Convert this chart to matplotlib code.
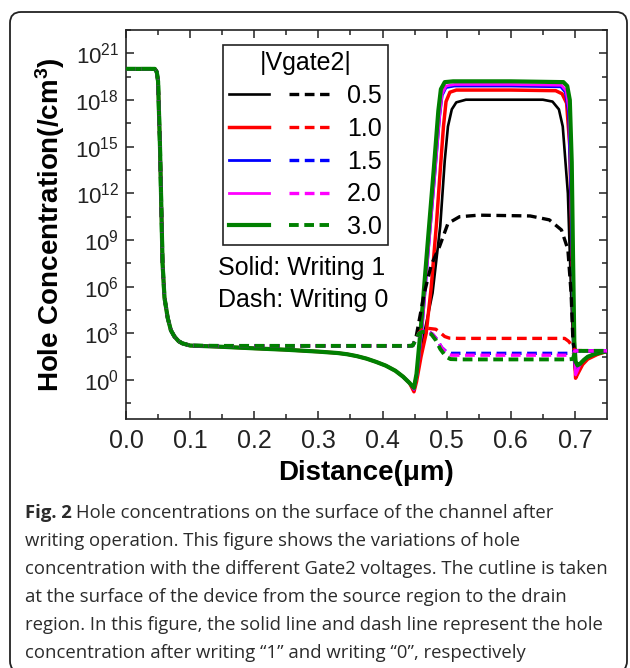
import numpy as np
import matplotlib
matplotlib.use("Agg")
import matplotlib.pyplot as plt
from matplotlib.patches import FancyBboxPatch
from matplotlib.transforms import IdentityTransform
from matplotlib.ticker import FixedLocator, NullFormatter, LogFormatterSciNotation, FormatStrFormatter
from matplotlib.legend_handler import HandlerTuple

plt.rcParams['font.family'] = ['Liberation Sans', 'DejaVu Sans']
plt.rcParams['mathtext.fontset'] = 'custom'
plt.rcParams['mathtext.rm'] = 'Liberation Sans'
plt.rcParams['mathtext.bf'] = 'Liberation Sans:bold'
plt.rcParams['lines.scale_dashes'] = False

# |Vgate2| values
VGATE = ["0.5", "1.0", "1.5", "2.0", "3.0"]
COLORS = ["#000000", "#ff0000", "#0000ff", "#ff00ff", "#008000"]

# source region, shared by every curve (distance in um, log10 of hole conc.)
SRC_X = [0.0, 0.045, 0.048, 0.050, 0.053, 0.057, 0.060, 0.065, 0.070, 0.0755, 0.082, 0.088, 0.10]
SRC_LOG = [20.0, 20.0, 19.8, 19.2, 15.0, 7.5, 5.3, 4.0, 3.2, 2.8, 2.5, 2.36, 2.22]

# channel after writing 1 (solid)
CH1_X = [0.15, 0.20, 0.25, 0.30, 0.33, 0.345, 0.36, 0.375, 0.39, 0.405, 0.42, 0.432, 0.442]
CH1_LOG = [2.14, 2.04, 1.95, 1.83, 1.74, 1.66, 1.54, 1.38, 1.17, 0.93, 0.6, 0.22, -0.18]

# channel after writing 0 (dash)
CH0_X = [0.15, 0.25, 0.35, 0.44, 0.447]
CH0_LOG = [2.2, 2.2, 2.2, 2.2, 2.22]

# body region, writing 1
W1_X = {
    "0.5": [0.448, 0.455, 0.465, 0.478, 0.49, 0.497, 0.502, 0.508, 0.515, 0.53, 0.65, 0.665, 0.675,
            0.681, 0.689, 0.694, 0.698, 0.701, 0.705, 0.712, 0.72, 0.735, 0.75],
    "1.0": [0.449, 0.453, 0.46, 0.468, 0.476, 0.484, 0.49, 0.495, 0.499, 0.505, 0.515, 0.60, 0.67,
            0.68, 0.687, 0.692, 0.695, 0.698, 0.701, 0.705, 0.712, 0.72, 0.735, 0.75],
    "1.5": [0.449, 0.454, 0.462, 0.472, 0.482, 0.489, 0.493, 0.499, 0.512, 0.60, 0.678, 0.685, 0.69,
            0.693, 0.696, 0.698, 0.701, 0.704, 0.708, 0.714, 0.72, 0.73, 0.74, 0.75],
    "2.0": [0.449, 0.454, 0.462, 0.472, 0.482, 0.489, 0.493, 0.499, 0.512, 0.60, 0.679, 0.686, 0.691,
            0.694, 0.697, 0.699, 0.701, 0.704, 0.708, 0.714, 0.72, 0.73, 0.74, 0.75],
    "3.0": [0.449, 0.453, 0.46, 0.47, 0.48, 0.487, 0.491, 0.497, 0.51, 0.60, 0.682, 0.688, 0.692,
            0.695, 0.697, 0.699, 0.701, 0.704, 0.708, 0.714, 0.72, 0.73, 0.74, 0.75],
}
W1_LOG = {
    "0.5": [-0.6, 0.8, 3.0, 5.6, 9.9, 14.1, 16.3, 17.4, 17.85, 18.02, 18.02, 17.9, 17.4,
            16.3, 12.0, 5.6, 1.5, 0.4, 0.7, 1.1, 1.4, 1.67, 1.85],
    "1.0": [-0.75, -0.1, 1.5, 3.0, 6.0, 10.0, 13.5, 16.3, 17.9, 18.5, 18.64, 18.64, 18.6,
            18.4, 17.8, 15.0, 9.0, 3.0, 0.12, 0.45, 1.0, 1.35, 1.65, 1.85],
    "1.5": [-0.6, 0.4, 3.5, 8.6, 13.4, 16.9, 18.3, 18.8, 18.9, 18.9, 18.85, 18.5, 17.2,
            13.0, 7.0, 2.0, 0.55, 0.7, 1.0, 1.3, 1.5, 1.66, 1.77, 1.85],
    "2.0": [-0.6, 0.4, 3.5, 8.6, 13.5, 17.0, 18.4, 18.9, 19.0, 19.0, 18.95, 18.6, 17.3,
            13.0, 7.0, 2.0, 0.33, 0.6, 1.0, 1.3, 1.5, 1.66, 1.77, 1.85],
    "3.0": [-0.5, 0.4, 3.5, 8.6, 13.6, 17.3, 18.7, 19.15, 19.2, 19.2, 19.15, 18.9, 18.0,
            14.0, 8.0, 2.5, 1.2, 0.95, 1.05, 1.3, 1.5, 1.66, 1.77, 1.85],
}

# body region, writing 0
W0_X = {
    "0.5": [0.452, 0.465, 0.476, 0.489, 0.502, 0.52, 0.55, 0.63, 0.66, 0.679, 0.689, 0.694, 0.697, 0.70, 0.75],
    "1.0": [0.452, 0.457, 0.463, 0.47, 0.483, 0.49, 0.497, 0.504, 0.52, 0.684, 0.69, 0.697, 0.70, 0.75],
    "1.5": [0.452, 0.457, 0.463, 0.472, 0.478, 0.485, 0.492, 0.5, 0.507, 0.52, 0.69, 0.697, 0.70, 0.75],
    "2.0": [0.452, 0.457, 0.463, 0.472, 0.478, 0.485, 0.492, 0.5, 0.507, 0.52, 0.69, 0.697, 0.70, 0.75],
    "3.0": [0.452, 0.457, 0.462, 0.47, 0.476, 0.483, 0.49, 0.499, 0.506, 0.52, 0.69, 0.697, 0.70, 0.75],
}
W0_LOG = {
    "0.5": [2.7, 5.57, 7.4, 8.6, 10.07, 10.5, 10.6, 10.55, 10.3, 9.65, 8.4, 5.6, 2.4, 1.88, 1.88],
    "1.0": [2.6, 3.05, 3.3, 3.33, 3.27, 3.05, 2.8, 2.7, 2.68, 2.68, 2.5, 2.14, 1.9, 1.88],
    "1.5": [2.6, 3.0, 3.15, 3.1, 2.95, 2.6, 2.1, 1.8, 1.72, 1.72, 1.72, 1.74, 1.88, 1.88],
    "2.0": [2.6, 3.0, 3.15, 3.1, 2.95, 2.6, 2.1, 1.75, 1.6, 1.6, 1.6, 1.63, 1.88, 1.88],
    "3.0": [2.6, 3.0, 3.1, 3.07, 2.95, 2.57, 2.0, 1.5, 1.35, 1.33, 1.33, 1.36, 1.88, 1.88],
}

SOLID_LW = {"0.5": 1.9, "1.0": 2.5, "1.5": 2.0, "2.0": 2.0, "3.0": 3.0}
DASH_LW = {"0.5": 2.4, "1.0": 2.4, "1.5": 2.4, "2.0": 2.4, "3.0": 2.8}
DASHES = (7.0, 4.0)

W, H = 630, 668
fig = plt.figure(figsize=(W / 100, H / 100), dpi=100)
ax = fig.add_axes([126 / W, 1 - 419 / H, (607 - 126) / W, (419 - 30) / H])


def full_curve(x_mid, log_mid, x_body, log_body):
    x = np.array(SRC_X + x_mid + x_body)
    y = 10.0 ** np.array(SRC_LOG + log_mid + log_body)
    return x, y


solid = {}
for v, c in zip(VGATE, COLORS):
    x, y = full_curve(CH1_X, CH1_LOG, W1_X[v], W1_LOG[v])
    solid[v], = ax.plot(x, y, color=c, lw=SOLID_LW[v], solid_joinstyle='round', zorder=2)

dashed = {}
for v, c in zip(VGATE, COLORS):
    x, y = full_curve(CH0_X, CH0_LOG, W0_X[v], W0_LOG[v])
    dashed[v], = ax.plot(x, y, color=c, lw=DASH_LW[v], linestyle=(0, DASHES), zorder=3)

ax.set_yscale('log')
ax.set_xlim(0, 0.75)
ax.set_ylim(10 ** -2.5, 10 ** 22.5)
ax.yaxis.set_major_locator(FixedLocator(10.0 ** np.arange(0, 22, 3)))
ax.yaxis.set_minor_locator(FixedLocator(10.0 ** np.arange(-1.5, 23, 3)))
ax.yaxis.set_major_formatter(LogFormatterSciNotation())
ax.yaxis.set_minor_formatter(NullFormatter())
ax.set_xticks(np.arange(0, 0.71, 0.1))
ax.set_xticks(np.arange(0.05, 0.75, 0.1), minor=True)
ax.xaxis.set_major_formatter(FormatStrFormatter('%.1f'))

ax.tick_params(which='both', direction='in', top=True, right=True, colors='#222222', width=1.1)
ax.tick_params(which='major', length=6)
ax.tick_params(which='minor', length=3.5)
ax.tick_params(axis='x', labelsize=18, pad=7)
ax.tick_params(axis='y', labelsize=16, pad=5)
for sp in ax.spines.values():
    sp.set_linewidth(1.2)
    sp.set_color('#222222')

ax.set_xlabel('Distance(\u03bcm)', fontsize=20, fontweight='bold', labelpad=5)
ax.set_ylabel('Hole Concentration(/cm$\\mathbf{^3}$)', fontsize=20, fontweight='bold', labelpad=6)

handles = [(solid[v], dashed[v]) for v in VGATE]
leg = ax.legend(handles, VGATE, title='|Vgate2|', title_fontsize=18, fontsize=18,
                handler_map={tuple: HandlerTuple(ndivide=None, pad=0.8)},
                loc='upper left', bbox_to_anchor=(0.2017, 0.961), borderaxespad=0,
                handlelength=4.0, handletextpad=0.7, labelspacing=0.35, borderpad=0.25,
                fancybox=False, framealpha=1)
leg.get_frame().set_edgecolor('#222222')
leg.get_frame().set_linewidth(1.2)

ax.text(0.191, 0.388, 'Solid: Writing 1', transform=ax.transAxes, fontsize=18, va='center', ha='left')
ax.text(0.191, 0.306, 'Dash: Writing 0', transform=ax.transAxes, fontsize=18, va='center', ha='left')

# rounded frame around figure and caption (pixel coordinates)
frame = FancyBboxPatch((10, -4), 617, 660, boxstyle='round,pad=0,rounding_size=11',
                       transform=IdentityTransform(), facecolor='none',
                       edgecolor='#222222', linewidth=1.3)
fig.add_artist(frame)

CAPTION = [
    "writing operation. This figure shows the variations of hole",
    "concentration with the different Gate2 voltages. The cutline is taken",
    "at the surface of the device from the source region to the drain",
    "region. In this figure, the solid line and dash line represent the hole",
    "concentration after writing \u201c1\u201d and writing \u201c0\u201d, respectively",
]
cap_font = dict(family=['Open Sans', 'DejaVu Sans'], fontsize=13.3, color='#2b2b2b')
x0 = 25 / W
base0 = 522
step = 28
head = fig.text(x0, 1 - base0 / H, 'Fig. 2', fontweight='bold', va='bottom', ha='left', **cap_font)
fig.canvas.draw()
bb = head.get_window_extent()
fig.text(bb.x1 / W + 4 / W, 1 - base0 / H, 'Hole concentrations on the surface of the channel after',
         va='bottom', ha='left', **cap_font)
for i, line in enumerate(CAPTION):
    fig.text(x0, 1 - (base0 + step * (i + 1)) / H, line, va='bottom', ha='left', **cap_font)

fig.savefig('out.png', dpi=100)
